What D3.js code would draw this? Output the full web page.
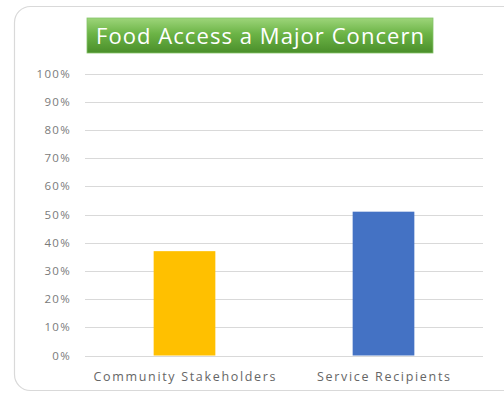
<!DOCTYPE html>
<html>
<head>
<meta charset="utf-8">
<script src="https://cdn.jsdelivr.net/npm/d3@7"></script>
<style>
  html, body { margin: 0; padding: 0; background: #fff; }
  svg { display: block; }
</style>
</head>
<body>
<svg id="chart" width="504" height="393"></svg>
<script>
const categories = ["Community Stakeholders", "Service Recipients"];
const values = [0.37, 0.51];
const barColors = ["#FFC000", "#4472C4"];
const tickValues = [0, 0.1, 0.2, 0.3, 0.4, 0.5, 0.6, 0.7, 0.8, 0.9, 1.0];
const title = "Food Access a Major Concern";

const svg = d3.select("#chart");
const font = "'Open Sans', 'Liberation Sans', sans-serif";

// outer chart frame
svg.append("rect")
  .attr("x", 14.5).attr("y", 6.5)
  .attr("width", 520).attr("height", 384)
  .attr("rx", 16).attr("ry", 16)
  .attr("fill", "#fff")
  .attr("stroke", "#d9d9d9").attr("stroke-width", 1.2);

// title box gradient
const defs = svg.append("defs");
const grad = defs.append("linearGradient").attr("id", "titleGrad")
  .attr("x1", 0).attr("y1", 0).attr("x2", 0).attr("y2", 1);
grad.append("stop").attr("offset", "0%").attr("stop-color", "#9DD57A");
grad.append("stop").attr("offset", "45%").attr("stop-color", "#6CB446");
grad.append("stop").attr("offset", "100%").attr("stop-color", "#4A8E2A");

svg.append("rect")
  .attr("x", 87).attr("y", 18)
  .attr("width", 346).attr("height", 35)
  .attr("fill", "url(#titleGrad)")
  .attr("stroke", "#86c46a").attr("stroke-width", 0.8);

svg.append("text")
  .attr("x", 260).attr("y", 44)
  .attr("text-anchor", "middle")
  .attr("font-family", font)
  .attr("font-size", 22)
  .attr("textLength", 328)
  .attr("lengthAdjust", "spacing")
  .attr("fill", "#fff")
  .text(title);

const x = d3.scaleBand()
  .domain(categories)
  .range([85, 483])
  .paddingInner(0.69)
  .paddingOuter(0.345);
const y = d3.scaleLinear().domain([0, 1]).range([355.5, 73.5]);

// gridlines
svg.append("g")
  .selectAll("line")
  .data(tickValues)
  .join("line")
  .attr("x1", 85).attr("x2", 483)
  .attr("y1", d => Math.round(y(d)) + 0.5)
  .attr("y2", d => Math.round(y(d)) + 0.5)
  .attr("stroke", "#d9d9d9").attr("stroke-width", 1.2);

// y axis labels
const yAxis = d3.axisLeft(y)
  .tickValues(tickValues)
  .tickFormat(d3.format(".0%"))
  .tickSize(0).tickPadding(0);
const gy = svg.append("g").attr("transform", "translate(71,0)").call(yAxis);
gy.select(".domain").remove();
gy.selectAll("text")
  .attr("font-family", font)
  .attr("font-size", 11.5)
  .attr("letter-spacing", 1.3)
  .attr("fill", "#7a7a7a");

// bars
svg.append("g")
  .selectAll("rect")
  .data(categories)
  .join("rect")
  .attr("x", d => x(d))
  .attr("width", x.bandwidth())
  .attr("y", (d, i) => y(values[i]))
  .attr("height", (d, i) => y(0) - y(values[i]))
  .attr("fill", (d, i) => barColors[i]);

// category labels
const labelWidths = [182, 133];
const xAxis = d3.axisBottom(x).tickSize(0).tickPadding(0);
const gx = svg.append("g").attr("transform", "translate(0,372)").call(xAxis);
gx.select(".domain").remove();
gx.selectAll("text")
  .attr("font-family", font)
  .attr("font-size", 12.5)
  .attr("textLength", (d, i) => labelWidths[i])
  .attr("lengthAdjust", "spacing")
  .attr("fill", "#666");
</script>
</body>
</html>
